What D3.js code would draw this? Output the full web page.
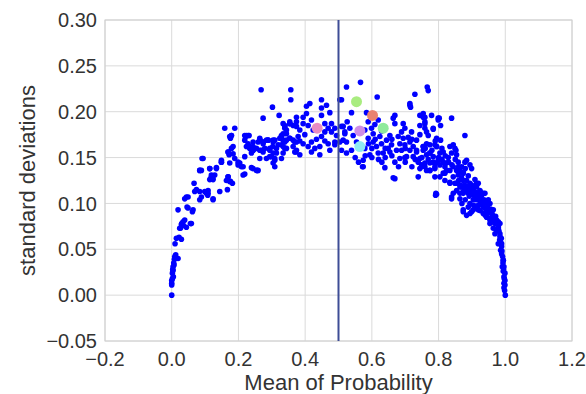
<!DOCTYPE html>
<html>
<head>
<meta charset="utf-8">
<script src="https://cdn.jsdelivr.net/npm/d3@7"></script>
<style>
  body { margin: 0; background: #fff; }
  text { font-family: "Liberation Sans", Arial, sans-serif; fill: #333; }
</style>
</head>
<body>
<div id="chart"></div>
<script>
const width = 586;
const height = 394;

// tick values
const xTicks = [-0.2, 0.0, 0.2, 0.4, 0.6, 0.8, 1.0, 1.2];
const yTicks = [-0.05, 0.00, 0.05, 0.10, 0.15, 0.20, 0.25, 0.30];

// threshold line
const threshold = 0.5;

// [mean of probability, standard deviation]
const points = [
  // left leg
  [0,0],[0,0.011],[0,0.013],[0,0.016],[0.002,0.018],[0.002,0.024],[0.004,0.027],[0.004,0.031],
  [0.006,0.035],[0.008,0.039],[0.009,0.042],[0.012,0.044],[0.019,0.040],[0.010,0.056],[0.014,0.062],
  [0.022,0.063],[0.029,0.061],[0.026,0.073],[0.024,0.073],[0.034,0.080],[0.039,0.082],[0.029,0.077],
  [0.044,0.074],[0.056,0.078],[0.059,0.078],[0.019,0.093],[0.046,0.096],[0.049,0.095],[0.062,0.091],
  [0.064,0.093],[0.039,0.105],[0.044,0.107],[0.049,0.107],[0.069,0.113],[0.074,0.115],[0.084,0.104],
  [0.084,0.113],[0.089,0.107],[0.099,0.113],[0.104,0.111],[0.109,0.114],[0.109,0.111],[0.124,0.104],
  [0.124,0.105],[0.144,0.113],[0.167,0.115],[0.067,0.122],[0.089,0.136],[0.084,0.136],[0.114,0.138],
  [0.119,0.129],[0.124,0.126],[0.114,0.126],[0.129,0.131],[0.134,0.139],[0.149,0.145],[0.091,0.149],
  [0.094,0.149],[0.169,0.129],[0.176,0.124],[0.164,0.125],[0.182,0.122],[0.169,0.156],[0.184,0.154],
  [0.176,0.171],[0.179,0.174],[0.189,0.182],[0.204,0.144],[0.209,0.140],[0.219,0.132],[0.239,0.139],
  [0.256,0.136],[0.224,0.174],[0.232,0.174],[0.234,0.162],[0.244,0.158],[0.229,0.165],[0.254,0.160],
  [0.199,0.142],[0.149,0.145],[0.159,0.182],[0.174,0.173],[0.179,0.160],[0.172,0.153],[0.222,0.173],
  [0.229,0.162],[0.244,0.162],[0.254,0.136],[0.264,0.169],[0.284,0.169],[0.303,0.162],[0.304,0.144],
  [0.314,0.155],[0.329,0.173],[0.334,0.162],[0.339,0.184],[0.354,0.187],[0.364,0.169],[0.374,0.184],
  [0.372,0.156],[0.114,0.138],[0.084,0.136],[0.119,0.131],[0.123,0.127],[0.169,0.129],[0.174,0.124],
  [0.134,0.138],[0.174,0.144],[0.169,0.156],[0.149,0.147],[0.199,0.145],[0.214,0.140],[0.214,0.131],
  [0.244,0.138],[0.259,0.136],[0.264,0.149],[0.184,0.162],[0.179,0.174],[0.189,0.149],[0.219,0.151],
  [0.239,0.155],[0.224,0.162],[0.234,0.160],[0.244,0.158],[0.264,0.158],[0.279,0.160],[0.284,0.149],
  [0.299,0.151],[0.309,0.147],[0.309,0.140],[0.314,0.160],[0.329,0.164],[0.344,0.160],[0.339,0.167],
  [0.374,0.158],[0.294,0.151],[0.269,0.158],[0.294,0.160],
  [0.120,0.130],[0.122,0.128],[0.117,0.127],[0.105,0.112],[0.108,0.109],[0.030,0.078],[0.035,0.076],
  [0.012,0.040],[0.005,0.020],[0.003,0.028],[0.007,0.033],
  // top of the arch, left of the line
  [0.268,0.224],[0.357,0.224],[0.357,0.213],[0.274,0.193],[0.302,0.205],[0.322,0.196],
  [0.219,0.174],[0.229,0.174],[0.219,0.169],[0.264,0.171],[0.274,0.167],[0.289,0.169],[0.309,0.169],
  [0.329,0.174],[0.339,0.185],[0.344,0.180],[0.354,0.187],[0.374,0.189],[0.354,0.171],[0.369,0.167],
  [0.259,0.167],[0.274,0.167],[0.289,0.169],[0.304,0.169],[0.324,0.171],[0.334,0.176],[0.344,0.169],
  [0.339,0.160],[0.414,0.209],[0.404,0.206],[0.449,0.213],[0.464,0.207],[0.449,0.204],[0.474,0.199],
  [0.374,0.194],[0.394,0.194],[0.419,0.191],[0.449,0.196],[0.354,0.189],[0.334,0.187],[0.339,0.182],
  [0.364,0.185],[0.394,0.187],[0.409,0.185],[0.459,0.187],[0.479,0.187],[0.489,0.182],[0.479,0.178],
  [0.459,0.178],[0.449,0.173],[0.444,0.162],[0.419,0.167],[0.409,0.162],[0.394,0.165],[0.379,0.173],
  [0.374,0.167],[0.364,0.162],[0.354,0.171],[0.344,0.176],[0.334,0.169],[0.319,0.164],[0.304,0.167],
  [0.294,0.158],[0.274,0.165],[0.264,0.169],[0.244,0.167],[0.244,0.158],[0.274,0.156],[0.304,0.155],
  [0.334,0.155],[0.369,0.156],[0.384,0.153],[0.329,0.149],[0.309,0.149],[0.419,0.156],[0.444,0.153],
  [0.474,0.158],[0.469,0.165],[0.489,0.164],[0.489,0.167],[0.424,0.180],[0.434,0.170],[0.399,0.175],
  [0.384,0.180],[0.429,0.160],[0.459,0.168],[0.469,0.182],[0.494,0.174],[0.404,0.198],[0.384,0.168],
  // right of the line
  [0.504,0.213],[0.524,0.227],[0.566,0.232],[0.509,0.213],[0.616,0.216],[0.729,0.219],[0.766,0.227],
  [0.769,0.223],[0.714,0.209],[0.716,0.205],[0.539,0.199],[0.584,0.199],[0.526,0.189],[0.534,0.182],
  [0.519,0.178],[0.589,0.189],[0.599,0.182],[0.619,0.191],[0.664,0.193],[0.669,0.196],[0.669,0.187],
  [0.699,0.182],[0.694,0.187],[0.719,0.178],[0.744,0.196],[0.754,0.194],[0.759,0.189],[0.759,0.182],
  [0.744,0.185],[0.779,0.196],[0.784,0.182],[0.799,0.191],[0.769,0.174],[0.794,0.171],[0.734,0.169],
  [0.714,0.167],[0.694,0.171],[0.679,0.173],[0.654,0.174],[0.659,0.164],[0.644,0.169],[0.624,0.173],
  [0.604,0.176],[0.589,0.171],[0.604,0.167],[0.614,0.162],[0.619,0.155],[0.634,0.155],[0.654,0.156],
  [0.674,0.158],[0.689,0.158],[0.699,0.164],[0.714,0.158],[0.734,0.156],[0.754,0.162],[0.774,0.164],
  [0.794,0.162],[0.764,0.153],[0.784,0.151],[0.799,0.147],[0.744,0.149],[0.724,0.151],[0.704,0.151],
  [0.684,0.149],[0.669,0.145],[0.594,0.153],[0.574,0.147],[0.574,0.140],[0.639,0.139],[0.664,0.128],
  [0.744,0.138],[0.759,0.140],[0.774,0.136],[0.789,0.138],[0.509,0.184],[0.514,0.169],[0.544,0.174],
  [0.554,0.167],[0.539,0.158],[0.524,0.155],[0.514,0.184],[0.519,0.176],[0.524,0.167],[0.504,0.167],
  [0.509,0.158],[0.572,0.140],[0.669,0.127],[0.739,0.129],[0.714,0.207],[0.754,0.198],[0.579,0.160],
  [0.629,0.165],[0.649,0.160],[0.684,0.165],[0.709,0.172],[0.724,0.162],[0.744,0.175],[0.764,0.165],
  [0.579,0.180],[0.609,0.186],[0.629,0.179],[0.689,0.178],[0.699,0.150],[0.739,0.145],[0.769,0.148],
  [0.620,0.148],[0.640,0.150],[0.660,0.152],[0.680,0.140],[0.700,0.145],[0.720,0.140],[0.730,0.148],
  [0.750,0.150],[0.760,0.160],[0.780,0.158],[0.800,0.150],[0.810,0.148],[0.820,0.152],[0.830,0.145],
  [0.840,0.142],[0.850,0.148],[0.860,0.140],[0.865,0.135],[0.880,0.138],[0.790,0.168],[0.810,0.160],
  [0.700,0.160],[0.720,0.170],[0.660,0.170],[0.640,0.160],[0.600,0.160],[0.590,0.165],[0.610,0.170],
  [0.550,0.150],[0.560,0.145],[0.580,0.152],[0.600,0.150],[0.630,0.145],
  // right leg
  [0.879,0.174],[0.839,0.193],[0.799,0.193],[0.794,0.110],[0.834,0.162],[0.849,0.160],[0.854,0.153],
  [0.814,0.156],[0.794,0.162],[0.824,0.144],[0.804,0.142],[0.784,0.145],[0.834,0.136],[0.854,0.136],
  [0.874,0.133],[0.884,0.125],[0.899,0.120],[0.914,0.118],[0.924,0.113],[0.929,0.109],[0.864,0.118],
  [0.874,0.113],[0.894,0.113],[0.909,0.107],[0.854,0.122],[0.844,0.129],[0.819,0.133],[0.774,0.136],
  [0.759,0.144],[0.774,0.155],[0.754,0.162],[0.734,0.158],[0.759,0.194],[0.759,0.187],[0.802,0.193],
  [0.806,0.185],[0.784,0.181],[0.764,0.178],[0.806,0.169],[0.789,0.164],[0.844,0.164],[0.852,0.158],
  [0.839,0.155],[0.804,0.155],[0.774,0.155],[0.754,0.158],[0.749,0.140],[0.764,0.136],[0.789,0.140],
  [0.792,0.144],[0.814,0.145],[0.824,0.136],[0.844,0.140],[0.859,0.131],[0.879,0.145],[0.899,0.138],
  [0.874,0.134],[0.789,0.129],[0.804,0.129],[0.819,0.125],[0.834,0.123],[0.849,0.122],[0.874,0.125],
  [0.894,0.122],[0.919,0.122],[0.884,0.118],[0.904,0.114],[0.924,0.114],[0.939,0.111],[0.844,0.111],
  [0.839,0.105],[0.864,0.111],[0.889,0.111],[0.909,0.105],[0.929,0.104],[0.949,0.100],[0.792,0.111],
  [0.874,0.093],[0.899,0.091],[0.884,0.087],[0.919,0.093],[0.934,0.089],[0.944,0.085],[0.959,0.085],
  [0.974,0.082],[0.984,0.078],[0.954,0.078],[0.964,0.073],[0.979,0.073],[0.969,0.067],[0.984,0.064],
  [0.979,0.056],[0.989,0.053],[0.989,0.045],[0.994,0.038],[0.996,0.031],[0.999,0.024],[0.999,0.016],
  [0.999,0.011],[1.0,0.0],[0.894,0.089],[0.889,0.096],[0.919,0.098],[0.954,0.100],[0.979,0.080],
  [0.989,0.056],[0.994,0.038],[0.996,0.020],[0.749,0.142],[0.774,0.144],[0.814,0.133],[0.834,0.122],
  [0.854,0.114],[0.874,0.111],[0.904,0.104],[0.944,0.089],[0.959,0.080],[0.974,0.071],[0.984,0.067],
  [0.884,0.147],[0.894,0.142],[0.914,0.122],[0.934,0.111],[0.949,0.104],[0.964,0.093],[0.969,0.085],
  [0.979,0.074],[0.986,0.049],[0.991,0.031],[0.994,0.026],[0.996,0.013],[0.996,0.008],[0.791,0.109],
  [0.839,0.107],[0.874,0.091],[0.904,0.093],[0.914,0.104],[0.929,0.111],[0.974,0.080],[0.964,0.085],
  [0.979,0.075],[0.954,0.082],[0.944,0.089],[0.934,0.096],[0.894,0.100],[0.864,0.105],[0.869,0.128],
  [0.889,0.130],[0.909,0.126],[0.899,0.116],[0.919,0.108],[0.939,0.101],[0.949,0.094],[0.959,0.090],
  [0.969,0.078],[0.829,0.150],[0.859,0.145],[0.819,0.140],[0.869,0.140],
  [0.860,0.125],[0.865,0.120],[0.870,0.118],[0.878,0.120],[0.882,0.115],[0.887,0.118],[0.892,0.108],
  [0.896,0.112],[0.902,0.110],[0.906,0.118],[0.911,0.112],[0.916,0.110],[0.921,0.104],[0.926,0.100],
  [0.931,0.098],[0.936,0.104],[0.941,0.094],[0.946,0.096],[0.951,0.090],[0.956,0.094],[0.961,0.088],
  [0.966,0.082],[0.971,0.086],[0.976,0.078],[0.981,0.070],[0.983,0.060],[0.986,0.058],[0.988,0.062],
  [0.990,0.048],[0.992,0.042],[0.993,0.035],[0.995,0.028],[0.997,0.018],[0.998,0.005],[0.880,0.104],
  [0.870,0.100],[0.905,0.098],[0.915,0.095],[0.925,0.092],[0.940,0.087]
];

// highlighted samples
const hlMean = [0.436, 0.554, 0.602, 0.564, 0.634, 0.564];
const hlStd = [0.182, 0.211, 0.196, 0.179, 0.182, 0.162];
const hlColors = ["#e88cc2", "#a9ec80", "#ea8270", "#cf8de6", "#90ea9c", "#90eaf2"];

const margin = { top: 20, right: 14, bottom: 53, left: 105 };

const x = d3.scaleLinear().domain([-0.2, 1.2]).range([margin.left, width - margin.right]);
const y = d3.scaleLinear().domain([-0.05, 0.30]).range([height - margin.bottom, margin.top]);

const svg = d3.select("#chart")
    .append("svg")
    .attr("width", width)
    .attr("height", height);

// grid
svg.append("g")
    .selectAll("line")
    .data(xTicks)
    .join("line")
    .attr("x1", d => x(d)).attr("x2", d => x(d))
    .attr("y1", y.range()[1]).attr("y2", y.range()[0])
    .attr("stroke", "#dadada").attr("stroke-width", 1);

svg.append("g")
    .selectAll("line")
    .data(yTicks)
    .join("line")
    .attr("x1", x.range()[0]).attr("x2", x.range()[1])
    .attr("y1", d => y(d)).attr("y2", d => y(d))
    .attr("stroke", "#dadada").attr("stroke-width", 1);

svg.append("rect")
    .attr("x", x.range()[0]).attr("y", y.range()[1])
    .attr("width", x.range()[1] - x.range()[0])
    .attr("height", y.range()[0] - y.range()[1])
    .attr("fill", "none").attr("stroke", "#d0d0d0");

// tick labels
svg.append("g")
    .selectAll("text")
    .data(yTicks)
    .join("text")
    .attr("x", margin.left - 8)
    .attr("y", d => y(d))
    .attr("dy", "0.36em")
    .attr("text-anchor", "end")
    .style("font-size", "20px")
    .text(d => d3.format(".2f")(d));

svg.append("g")
    .selectAll("text")
    .data(xTicks)
    .join("text")
    .attr("x", d => x(d))
    .attr("y", height - margin.bottom + 25)
    .attr("text-anchor", "middle")
    .style("font-size", "20px")
    .text(d => d3.format(".1f")(d));

// axis titles
svg.append("text")
    .attr("x", x(0.5))
    .attr("y", 390)
    .attr("text-anchor", "middle")
    .style("font-size", "22px")
    .text("Mean of Probability");

svg.append("text")
    .attr("transform", `translate(35,${(y.range()[0] + y.range()[1]) / 2}) rotate(-90)`)
    .attr("text-anchor", "middle")
    .style("font-size", "22px")
    .text("standard deviations");

// points
svg.append("g")
    .selectAll("circle")
    .data(points)
    .join("circle")
    .attr("cx", d => x(d[0]))
    .attr("cy", d => y(d[1]))
    .attr("r", 2.8)
    .attr("fill", "#0000ff");

svg.append("line")
    .attr("x1", x(threshold)).attr("x2", x(threshold))
    .attr("y1", y.range()[1]).attr("y2", y.range()[0])
    .attr("stroke", "#3e4d96").attr("stroke-width", 2);

svg.append("g")
    .selectAll("circle")
    .data(hlMean)
    .join("circle")
    .attr("cx", d => x(d))
    .attr("cy", (d, i) => y(hlStd[i]))
    .attr("r", 5.5)
    .attr("fill", (d, i) => hlColors[i]);
</script>
</body>
</html>
